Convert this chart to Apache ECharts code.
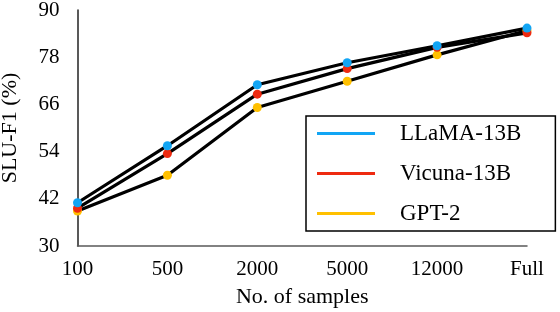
<!DOCTYPE html>
<html>
<head>
<meta charset="utf-8">
<script src="https://cdn.jsdelivr.net/npm/echarts@6/dist/echarts.min.js"></script>
<style>html,body{margin:0;padding:0;background:#fff;}#c{width:560px;height:312px;}</style>
</head>
<body>
<div id="c"></div>
<script>
const categories = ['100', '500', '2000', '5000', '12000', 'Full'];
const llama = [41.0, 55.5, 71.0, 76.6, 80.9, 85.4];
const vicuna = [39.6, 53.5, 68.6, 75.1, 80.5, 84.2];
const gpt2 = [38.9, 48.0, 65.2, 71.9, 78.6, 84.8];
const seriesNames = ['LLaMA-13B', 'Vicuna-13B', 'GPT-2'];
const seriesColors = ['#12A5F4', '#EE2A10', '#FFC000'];
const yTicks = [30, 42, 54, 66, 78, 90];

const font = 'Liberation Serif';
const values = [llama, vicuna, gpt2];

const lineSeries = values.map((v, i) => ({
  name: '_line' + i,
  type: 'line',
  data: v,
  symbol: 'none',
  lineStyle: { color: '#000', width: 3.2 },
  z: 2,
  silent: true
}));
const markerSeries = values.map((v, i) => ({
  name: seriesNames[i],
  type: 'scatter',
  data: v,
  symbol: 'circle',
  symbolSize: 9,
  itemStyle: { color: seriesColors[i], opacity: 1 },
  z: 5 - i
}));

const chart = echarts.init(document.getElementById('c'));
chart.setOption({
  animation: false,
  backgroundColor: '#fff',
  grid: { left: 77.5, right: 33, top: 10, bottom: 66, containLabel: false, outerBoundsMode: 'none' },
  xAxis: {
    type: 'category',
    data: categories,
    boundaryGap: false,
    name: 'No. of samples',
    nameLocation: 'middle',
    nameGap: 40,
    nameTextStyle: { fontFamily: font, fontSize: 22, color: '#000' },
    axisLine: { lineStyle: { color: '#595959', width: 1.5 } },
    axisTick: { show: false },
    axisLabel: { fontFamily: font, fontSize: 21, color: '#000', margin: 13 },
    splitLine: { show: false }
  },
  yAxis: {
    type: 'value',
    min: yTicks[0],
    max: yTicks[yTicks.length - 1],
    interval: yTicks[1] - yTicks[0],
    name: 'SLU-F1 (%)',
    nameLocation: 'middle',
    nameGap: 56,
    nameTextStyle: { fontFamily: font, fontSize: 22, color: '#000' },
    axisLine: { show: true, lineStyle: { color: '#222', width: 1.5 } },
    axisTick: { show: false },
    axisLabel: { fontFamily: font, fontSize: 21, color: '#000', margin: 18 },
    splitLine: { show: false }
  },
  legend: {
    data: seriesNames.map((n, i) => ({ name: n, icon: 'rect', itemStyle: { color: seriesColors[i] } })),
    orient: 'vertical',
    left: 306,
    top: 116,
    itemWidth: 58,
    itemHeight: 3,
    itemGap: 17,
    padding: [6, 34, 6, 11],
    borderColor: '#000',
    borderWidth: 1.5,
    backgroundColor: '#fff',
    textStyle: { fontFamily: font, fontSize: 23, color: '#000', lineHeight: 23, padding: [0, 0, 0, 20] },
    selectedMode: false
  },
  series: lineSeries.concat(markerSeries)
});
</script>
</body>
</html>
